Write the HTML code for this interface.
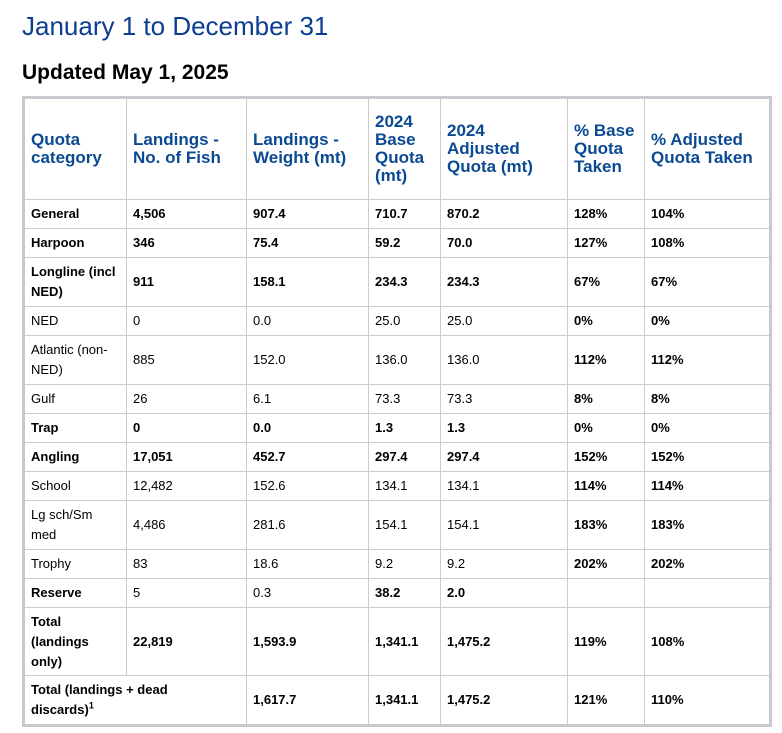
<!DOCTYPE html>
<html><head><style>
body{margin:0;background:#fff;font-family:"Liberation Sans",Arial,sans-serif;}
h1{position:absolute;left:22px;top:11px;margin:0;font-size:26px;font-weight:normal;color:#0b3d91;}
h2{position:absolute;left:22px;top:61px;margin:0;font-size:21px;font-weight:bold;color:#000;}
table{position:absolute;left:22px;top:96px;width:747px;border-collapse:collapse;table-layout:fixed;border:3px solid #c8c9ce;}
td,th{border:1px solid #ccc;padding:0 6px;font-size:13px;color:#000;text-align:left;vertical-align:middle;line-height:20px;}
th{font-size:17px;color:#0b4a93;line-height:18px;font-weight:bold;height:100px;}
.b{font-weight:bold}
tr.r1 td{height:28px}
tr.r2 td{height:48px}
tr.r3 td{height:67px}
sup{font-size:9px;line-height:0}
</style></head><body>
<h1>January 1 to December 31</h1>
<h2>Updated May 1, 2025</h2>
<table>
<colgroup><col style="width:103px"><col style="width:120px"><col style="width:122px"><col style="width:72px"><col style="width:127px"><col style="width:77px"><col style="width:126px"></colgroup>
<tr><th>Quota category</th><th>Landings - No. of Fish</th><th>Landings - Weight (mt)</th><th>2024 Base Quota (mt)</th><th>2024 Adjusted Quota (mt)</th><th>% Base Quota Taken</th><th>% Adjusted Quota Taken</th></tr>
<tr class="r1 b"><td>General</td><td>4,506</td><td>907.4</td><td>710.7</td><td>870.2</td><td>128%</td><td>104%</td></tr>
<tr class="r1 b"><td>Harpoon</td><td>346</td><td>75.4</td><td>59.2</td><td>70.0</td><td>127%</td><td>108%</td></tr>
<tr class="r2 b"><td>Longline (incl NED)</td><td>911</td><td>158.1</td><td>234.3</td><td>234.3</td><td>67%</td><td>67%</td></tr>
<tr class="r1"><td>NED</td><td>0</td><td>0.0</td><td>25.0</td><td>25.0</td><td class="b">0%</td><td class="b">0%</td></tr>
<tr class="r2"><td>Atlantic (non-NED)</td><td>885</td><td>152.0</td><td>136.0</td><td>136.0</td><td class="b">112%</td><td class="b">112%</td></tr>
<tr class="r1"><td>Gulf</td><td>26</td><td>6.1</td><td>73.3</td><td>73.3</td><td class="b">8%</td><td class="b">8%</td></tr>
<tr class="r1 b"><td>Trap</td><td>0</td><td>0.0</td><td>1.3</td><td>1.3</td><td>0%</td><td>0%</td></tr>
<tr class="r1 b"><td>Angling</td><td>17,051</td><td>452.7</td><td>297.4</td><td>297.4</td><td>152%</td><td>152%</td></tr>
<tr class="r1"><td>School</td><td>12,482</td><td>152.6</td><td>134.1</td><td>134.1</td><td class="b">114%</td><td class="b">114%</td></tr>
<tr class="r2"><td>Lg sch/Sm med</td><td>4,486</td><td>281.6</td><td>154.1</td><td>154.1</td><td class="b">183%</td><td class="b">183%</td></tr>
<tr class="r1"><td>Trophy</td><td>83</td><td>18.6</td><td>9.2</td><td>9.2</td><td class="b">202%</td><td class="b">202%</td></tr>
<tr class="r1"><td class="b">Reserve</td><td>5</td><td>0.3</td><td class="b">38.2</td><td class="b">2.0</td><td></td><td></td></tr>
<tr class="r3 b"><td>Total (landings only)</td><td>22,819</td><td>1,593.9</td><td>1,341.1</td><td>1,475.2</td><td>119%</td><td>108%</td></tr>
<tr class="r2 b"><td colspan="2"><div style="width:160px">Total (landings + dead discards)<sup>1</sup></div></td><td>1,617.7</td><td>1,341.1</td><td>1,475.2</td><td>121%</td><td>110%</td></tr>
</table>
</body></html>
